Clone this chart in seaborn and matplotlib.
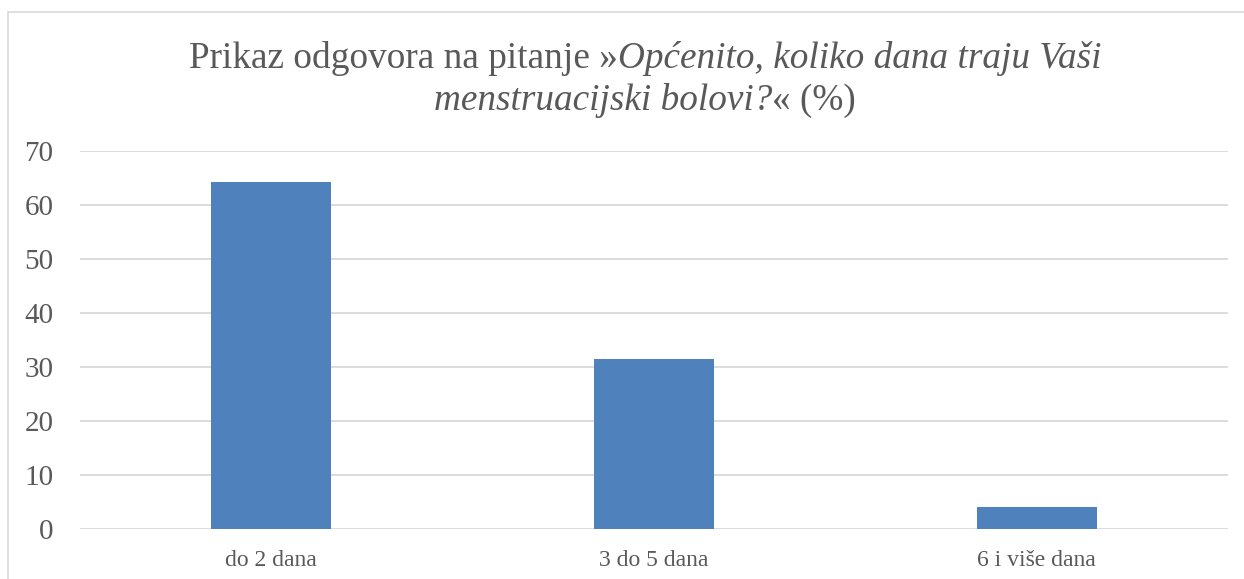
import numpy as np
import pandas as pd
import matplotlib
matplotlib.use("Agg")
import matplotlib.pyplot as plt
import seaborn as sns
from matplotlib.patches import Rectangle

categories = ["do 2 dana", "3 do 5 dana", "6 i više dana"]
values = [64.2, 31.5, 4.1]
yticks = [0, 10, 20, 30, 40, 50, 60, 70]

title_line1 = [("Prikaz odgovora na pitanje »", "normal"),
               ("Općenito, koliko dana traju Vaši", "italic")]
title_line2 = [("menstruacijski bolovi?", "italic"),
               ("« (%)", "normal")]

sns.set_style("white")
plt.rcParams["font.family"] = ["Liberation Serif", "DejaVu Serif"]

W, H = 1244, 579
fig = plt.figure(figsize=(W / 100, H / 100), dpi=100)
ax = fig.add_axes([80 / W, 1 - 529 / H, (1228 - 80) / W, (529 - 150.7) / H])

df = pd.DataFrame({"cat": categories, "val": values})
sns.barplot(data=df, x="cat", y="val", color="#4f81bd", width=0.314,
            saturation=1, edgecolor="none", ax=ax)

ax.set_ylim(0, 70)
ax.set_yticks(yticks)
ax.yaxis.grid(True, color="#d9d9d9", linewidth=1.3)
ax.set_axisbelow(True)
for s in ax.spines.values():
    s.set_visible(False)
ax.set_xlabel("")
ax.set_ylabel("")
ax.tick_params(axis="y", labelsize=21, colors="#595959", length=0, pad=19)
ax.tick_params(axis="x", labelsize=17, colors="#595959", length=0, pad=15)

# chart border
fig.patches.append(Rectangle((8 / W, -0.1), 1.2, 1 - 12 / H + 0.1, transform=fig.transFigure,
                             fill=False, edgecolor="#d9d9d9", linewidth=1.2))


def draw_line(parts, yc, xc=645, size=26.8):
    renderer = fig.canvas.get_renderer()
    texts = []
    for s, style in parts:
        t = fig.text(0, 1 - yc / H, s, fontsize=size, style=style, color="#595959",
                     va="center", ha="left")
        texts.append(t)
    widths = [t.get_window_extent(renderer).width for t in texts]
    x = xc - sum(widths) / 2
    for t, w in zip(texts, widths):
        t.set_x(x / W)
        x += w


draw_line(title_line1, 58)
draw_line(title_line2, 101)

fig.savefig("out.png", dpi=100)
